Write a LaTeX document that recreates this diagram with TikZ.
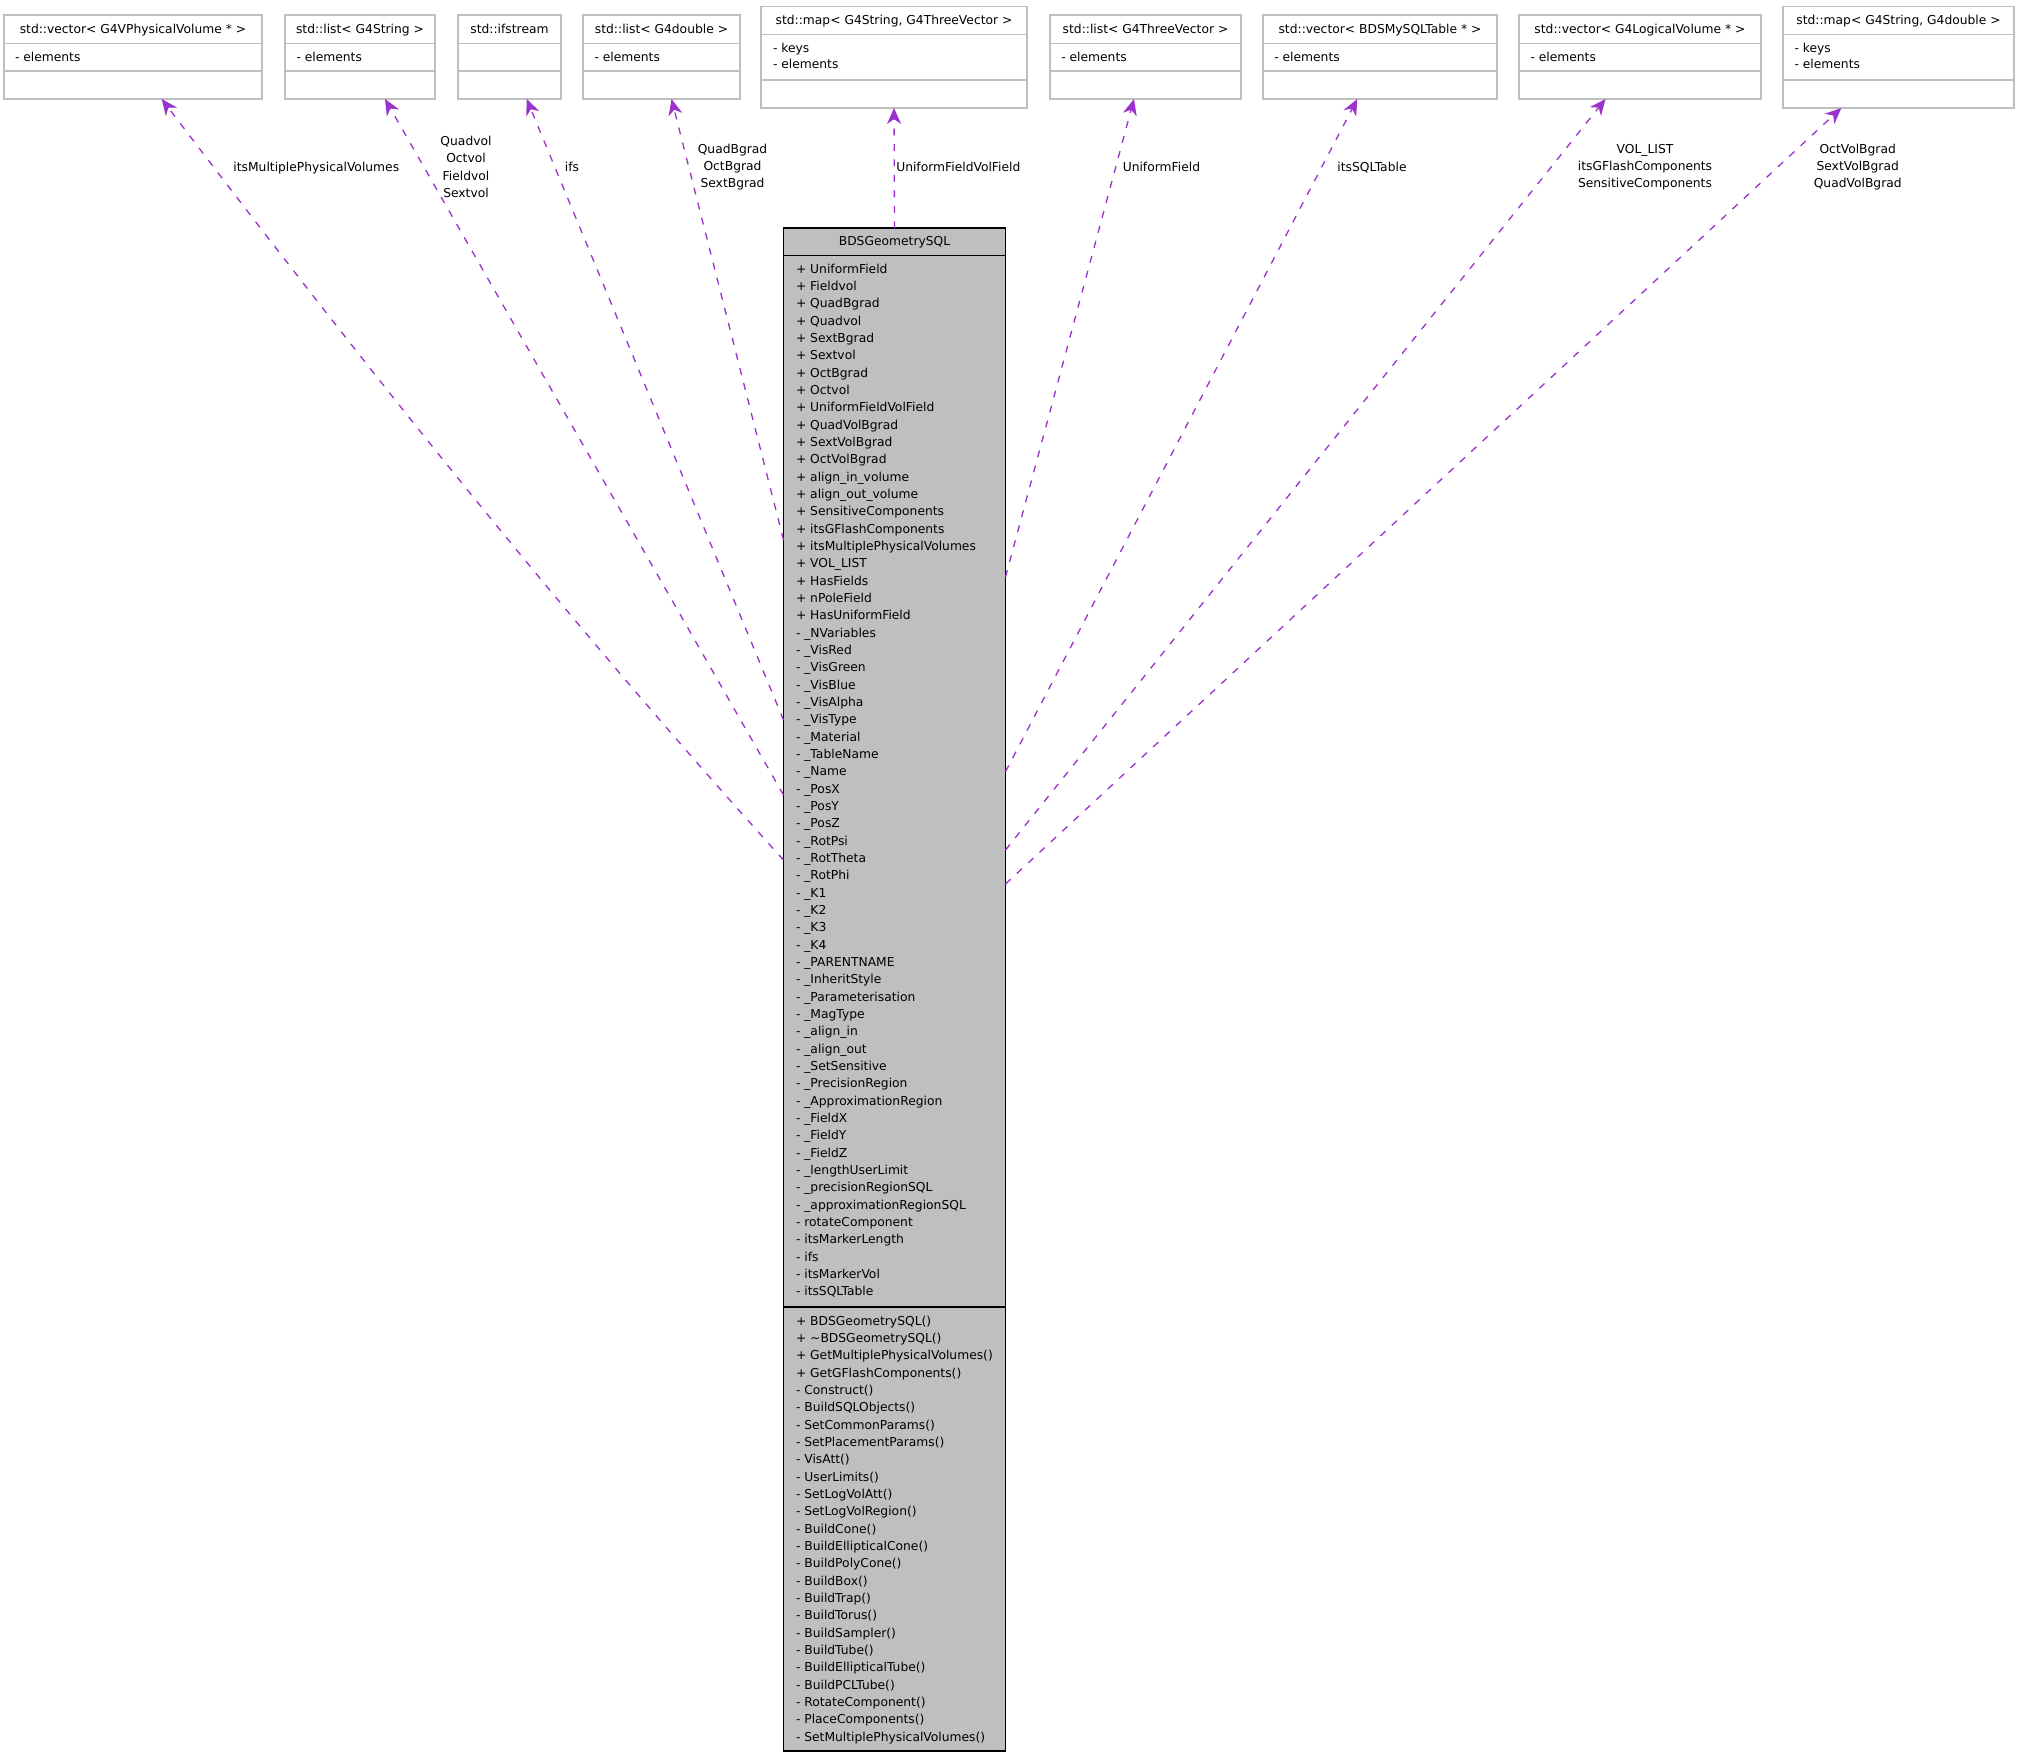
\documentclass[tikz,border=0pt]{standalone}
\usepackage{fontspec}
\setmainfont{DejaVu Sans}
\usetikzlibrary{arrows.meta,calc}
\definecolor{depcol}{HTML}{9A32CD}
\definecolor{grey75}{HTML}{BFBFBF}

\newcommand\umlbox[7]{% name, xl, yt, xr, yb, d1, d2
  \node[topbox, minimum width={(#4)-(#2)}, minimum height={(#5)-(#3)}] (#1) at ({((#2)+(#4))/2},{((#3)+(#5))/2}) {};
  \draw[topline] ([yshift={-((#6)-(#3))*1pt}]#1.north west) -- ([yshift={-((#6)-(#3))*1pt}]#1.north east);
  \draw[topline] ([yshift={-((#7)-(#3))*1pt}]#1.north west) -- ([yshift={-((#7)-(#3))*1pt}]#1.north east);
}

\begin{document}
\begin{tikzpicture}[x=1pt,y=-1pt,
  txt/.style={font=\fontsize{12.3}{17.3}\selectfont, inner sep=0pt, outer sep=0pt, text height=8.8pt, text depth=0pt},
  member/.style={txt, anchor=west},
  hdr/.style={txt, anchor=center},
  lbl/.style={txt, anchor=center},
  mlbl/.style={font=\fontsize{12.3}{17.3}\selectfont, inner sep=0pt, align=center, anchor=center},
  topbox/.style={draw=grey75, line width=1.4pt, fill=white, inner sep=0pt, outer sep=0pt},
  topline/.style={draw=grey75, line width=1.4pt},
  mainboxst/.style={draw=black, fill=grey75, line width=1.7pt, inner sep=0pt, outer sep=0pt},
  mainline/.style={draw=black, line width=1.7pt},
  usage/.style={draw=depcol, line width=1.3pt, dash pattern=on 7pt off 8.5pt, -{Stealth[length=16pt,width=14pt,inset=5pt]}},
]
\useasboundingbox[fill=white] (0,0) rectangle (2019,1757);

% ---------- top classes ----------
\umlbox{tb1}{4}{15}{262}{99}{43.3}{71}
\umlbox{tb2}{285}{15}{435}{99}{43.3}{71}
\umlbox{tb3}{458}{15}{561}{99}{43.3}{71}
\umlbox{tb4}{583}{15}{740}{99}{43.3}{71}
\umlbox{tb5}{761}{6.5}{1027}{108}{34.3}{80}
\umlbox{tb6}{1050}{15}{1241}{99}{43.3}{71}
\umlbox{tb7}{1263}{15}{1497}{99}{43.3}{71}
\umlbox{tb8}{1519}{15}{1761}{99}{43.3}{71}
\umlbox{tb9}{1783}{6.5}{2014}{108}{34.3}{80}

\node[hdr] (tb1h) at (133,29) {std::vector< G4VPhysicalVolume * >};
\node[member] (tb1m) at (15,56.7) {- elements};
\node[hdr] (tb2h) at (360,29) {std::list< G4String >};
\node[member] (tb2m) at (296.5,56.7) {- elements};
\node[hdr] (tb3h) at (509.5,29) {std::ifstream};
\node[hdr] (tb4h) at (661.5,29) {std::list< G4double >};
\node[member] (tb4m) at (594.5,56.7) {- elements};
\node[hdr] (tb5h) at (894,19.8) {std::map< G4String, G4ThreeVector >};
\node[member] (tb5k) at (773,47.7) {- keys};
\node[member] (tb5m) at (773,64.4) {- elements};
\node[hdr] (tb6h) at (1145.5,29) {std::list< G4ThreeVector >};
\node[member] (tb6m) at (1061.3,56.7) {- elements};
\node[hdr] (tb7h) at (1380,29) {std::vector< BDSMySQLTable * >};
\node[member] (tb7m) at (1274.3,56.7) {- elements};
\node[hdr] (tb8h) at (1640,29) {std::vector< G4LogicalVolume * >};
\node[member] (tb8m) at (1530.5,56.7) {- elements};
\node[hdr] (tb9h) at (1898.5,19.8) {std::map< G4String, G4double >};
\node[member] (tb9k) at (1794.5,47.7) {- keys};
\node[member] (tb9m) at (1794.5,64.4) {- elements};

% ---------- main class ----------
\node[mainboxst, minimum width=222pt, minimum height=1522.7pt] (mainbox) at (894.5,989.65) {};
\draw[mainline] ([yshift=-27.2pt]mainbox.north west) -- ([yshift=-27.2pt]mainbox.north east);
\draw[mainline] ([yshift=-1078.4pt]mainbox.north west) -- ([yshift=-1078.4pt]mainbox.north east);
\node[hdr] (mainhdr) at (894.5,241) {BDSGeometrySQL};

\foreach \mtext [count=\i] in {+ UniformField, + Fieldvol, + QuadBgrad, + Quadvol, + SextBgrad, + Sextvol, + OctBgrad, + Octvol, + UniformFieldVolField, + QuadVolBgrad, + SextVolBgrad, + OctVolBgrad, + align\_in\_volume, + align\_out\_volume, + SensitiveComponents, + itsGFlashComponents, + itsMultiplePhysicalVolumes, + VOL\_LIST, + HasFields, + nPoleField, + HasUniformField, - \_NVariables, - \_VisRed, - \_VisGreen, - \_VisBlue, - \_VisAlpha, - \_VisType, - \_Material, - \_TableName, - \_Name, - \_PosX, - \_PosY, - \_PosZ, - \_RotPsi, - \_RotTheta, - \_RotPhi, - \_K1, - \_K2, - \_K3, - \_K4, - \_PARENTNAME, - \_InheritStyle, - \_Parameterisation, - \_MagType, - \_align\_in, - \_align\_out, - \_SetSensitive, - \_PrecisionRegion, - \_ApproximationRegion, - \_FieldX, - \_FieldY, - \_FieldZ, - \_lengthUserLimit, - \_precisionRegionSQL, - \_approximationRegionSQL, - rotateComponent, - itsMarkerLength, - ifs, - itsMarkerVol, - itsSQLTable}
  \node[member] (attr\i) at (796,{268.9+(\i-1)*17.33}) {\mtext};

\foreach \mtext [count=\i] in {+ BDSGeometrySQL(), + \textasciitilde BDSGeometrySQL(), + GetMultiplePhysicalVolumes(), + GetGFlashComponents(), - Construct(), - BuildSQLObjects(), - SetCommonParams(), - SetPlacementParams(), - VisAtt(), - UserLimits(), - SetLogVolAtt(), - SetLogVolRegion(), - BuildCone(), - BuildEllipticalCone(), - BuildPolyCone(), - BuildBox(), - BuildTrap(), - BuildTorus(), - BuildSampler(), - BuildTube(), - BuildEllipticalTube(), - BuildPCLTube(), - RotateComponent(), - PlaceComponents(), - SetMultiplePhysicalVolumes()}
  \node[member] (meth\i) at (796,{1320.7+(\i-1)*17.33}) {\mtext};

% ---------- connectors ----------
\draw[usage] ([yshift=-631.7pt]mainbox.north west) .. controls (557.5,610) and (351.7,349) .. ([xshift=157.7pt]tb1.south west);
\draw[usage] ([yshift=-566.7pt]mainbox.north west) -- ([xshift=100pt]tb2.south west);
\draw[usage] ([yshift=-491.7pt]mainbox.north west) -- ([xshift=68.7pt]tb3.south west);
\draw[usage] ([yshift=-311.7pt]mainbox.north west) -- ([xshift=88.5pt]tb4.south west);
\draw[usage] (mainbox.north) -- (tb5.south);
\draw[usage] ([yshift=-348.7pt]mainbox.north east) -- ([xshift=84pt]tb6.south west);
\draw[usage] ([yshift=-543.4pt]mainbox.north east) -- ([xshift=94.3pt]tb7.south west);
\draw[usage] ([yshift=-621.7pt]mainbox.north east) -- ([xshift=86.5pt]tb8.south west);
\draw[usage] ([yshift=-655.7pt]mainbox.north east) -- ([xshift=58.3pt]tb9.south west);

% ---------- labels ----------
\node[lbl] (l1) at (316.3,166.7) {itsMultiplePhysicalVolumes};
\node[mlbl] (l2) at (466,166.9) {Quadvol\\Octvol\\Fieldvol\\Sextvol};
\node[lbl] (l3) at (572,166.7) {ifs};
\node[mlbl] (l4) at (732.5,167.2) {QuadBgrad\\OctBgrad\\SextBgrad};
\node[lbl] (l5) at (958.3,166.7) {UniformFieldVolField};
\node[lbl] (l6) at (1161.4,166.7) {UniformField};
\node[lbl] (l7) at (1372,166.7) {itsSQLTable};
\node[mlbl] (l8) at (1645,167.2) {VOL\_LIST\\itsGFlashComponents\\SensitiveComponents};
\node[mlbl] (l9) at (1857.7,167.2) {OctVolBgrad\\SextVolBgrad\\QuadVolBgrad};
\end{tikzpicture}
\end{document}
